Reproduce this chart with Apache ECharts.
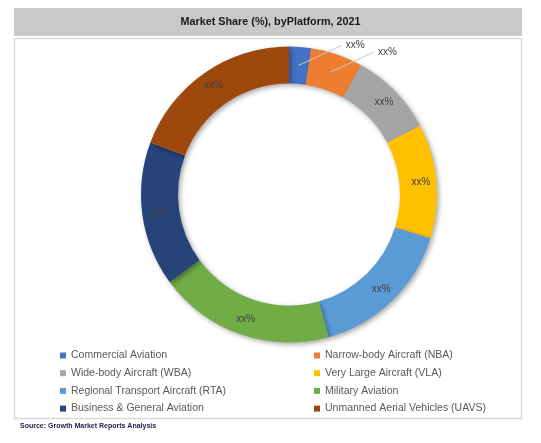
<!DOCTYPE html>
<html>
<head>
<meta charset="utf-8">
<script src="https://cdn.jsdelivr.net/npm/echarts@6/dist/echarts.min.js"></script>
<style>
html,body{margin:0;padding:0;background:#fff;}
#chart{width:541px;height:443px;}
</style>
</head>
<body>
<div id="chart"></div>
<script>
// ---- data ----
const titleText = 'Market Share (%), byPlatform, 2021';
const sourceText = 'Source: Growth Market Reports Analysis';
const categories = [
  'Commercial Aviation',
  'Narrow-body Aircraft (NBA)',
  'Wide-body Aircraft (WBA)',
  'Very Large Aircraft (VLA)',
  'Regional Transport Aircraft (RTA)',
  'Military Aviation',
  'Business & General Aviation',
  'Unmanned Aerial Vehicles (UAVS)'
];
const shares = [2.4, 5.7, 9.2, 12.5, 15.9, 19.2, 15.8, 19.3];
const labelTexts = ['xx%', 'xx%', 'xx%', 'xx%', 'xx%', 'xx%', 'xx%', 'xx%'];
const colors = ['#4472C4', '#ED7D31', '#A5A5A5', '#FFC000', '#5B9BD5', '#70AD47', '#264478', '#9E480E'];
const legendLeftCol = [categories[0], categories[2], categories[4], categories[6]];
const legendRightCol = [categories[1], categories[3], categories[5], categories[7]];

// ---- chart ----
const CENTER = [289, 194.5];
const R_IN = 111, R_OUT = 148;
const R_MID = (R_IN + R_OUT) / 2;
const OUTSIDE_LIMIT = 8; // small slices get outside labels

const chart = echarts.init(document.getElementById('chart'), null, {renderer: 'canvas'});

const isOutside = i => shares[i] < OUTSIDE_LIMIT;

const ringData = categories.map((name, i) => ({
  name: name,
  value: shares[i],
  label: {show: !isOutside(i)}
}));

const calloutData = categories.map((name, i) => ({
  name: name,
  value: shares[i],
  label: {show: isOutside(i)},
  labelLine: {show: isOutside(i)}
}));

const labelFont = {
  fontSize: 10,
  color: '#404040',
  fontFamily: 'Liberation Sans, Arial, sans-serif'
};

const legendCommon = {
  orient: 'vertical',
  top: 350,
  padding: 0,
  itemGap: 6.7,
  itemWidth: 6,
  itemHeight: 6,
  icon: 'rect',
  selectedMode: false,
  textStyle: {fontSize: 10.5, color: '#595959', fontFamily: 'Liberation Sans, Arial, sans-serif'}
};

chart.setOption({
  backgroundColor: '#ffffff',
  animation: false,
  color: colors,
  title: {
    text: titleText,
    left: 'center',
    top: 17,
    padding: 0,
    textStyle: {fontSize: 10.8, fontWeight: 'bold', color: '#1a1a1a', fontFamily: 'Liberation Sans, Arial, sans-serif'}
  },
  graphic: [
    {type: 'rect', z: -10, shape: {x: 14, y: 8, width: 508, height: 28}, style: {fill: '#c9c9c9'}},
    {type: 'rect', z: -10, shape: {x: 14.5, y: 38.5, width: 507, height: 380}, style: {fill: '#ffffff', stroke: '#d9d9d9', lineWidth: 1.5}},
    {type: 'text', left: 20, top: 423, style: {text: sourceText, fontSize: 7, fontWeight: 'bold', fill: '#1f1d45', fontFamily: 'Liberation Sans, Arial, sans-serif'}}
  ],
  legend: [
    Object.assign({}, legendCommon, {left: 60, data: legendLeftCol}),
    Object.assign({}, legendCommon, {left: 314, data: legendRightCol})
  ],
  series: [{
    type: 'pie',
    z: 2,
    center: CENTER,
    radius: [R_IN, R_OUT],
    startAngle: 90,
    clockwise: true,
    avoidLabelOverlap: false,
    silent: true,
    data: ringData,
    itemStyle: {
      shadowBlur: 5,
      shadowOffsetX: 2,
      shadowOffsetY: 2,
      shadowColor: 'rgba(0,0,0,0.35)'
    },
    label: Object.assign({position: 'inside', formatter: p => labelTexts[p.dataIndex]}, labelFont),
    labelLine: {show: false}
  }, {
    // transparent helper ring (to the middle of the band) that carries the callout labels
    type: 'pie',
    z: 5,
    center: CENTER,
    radius: [0, R_MID],
    startAngle: 90,
    clockwise: true,
    avoidLabelOverlap: false,
    silent: true,
    legendHoverLink: false,
    data: calloutData,
    itemStyle: {color: 'rgba(0,0,0,0)', borderWidth: 0},
    label: Object.assign({position: 'outside', formatter: p => labelTexts[p.dataIndex]}, labelFont),
    labelLine: {
      length: 10,
      length2: 10,
      lineStyle: {color: '#c8c8c8', width: 1}
    },
    labelLayout: function (params) {
      const pts = params.labelLinePoints;
      if (!pts || !pts.length || !isOutside(params.dataIndex)) return {};
      const a = pts[0];
      const end = [a[0] + 43, a[1] - 20];
      return {
        x: a[0] + 47,
        y: a[1] - 20,
        align: 'left',
        verticalAlign: 'middle',
        labelLinePoints: [a, [(a[0] + end[0]) / 2, (a[1] + end[1]) / 2], end]
      };
    }
  }]
});
</script>
</body>
</html>
